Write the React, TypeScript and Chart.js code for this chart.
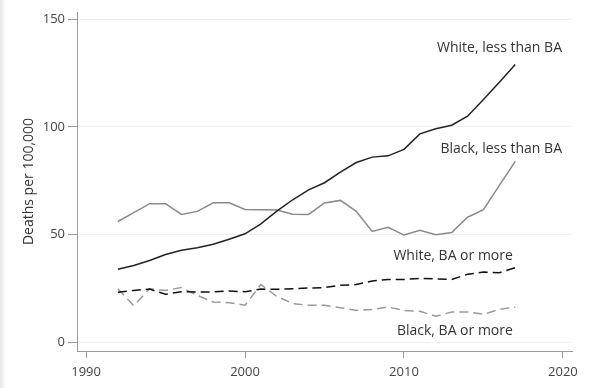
import React, { useEffect, useRef } from "react";
import { Chart, registerables } from "chart.js";

Chart.register(...registerables);

const years = [1992, 1993, 1994, 1995, 1996, 1997, 1998, 1999, 2000, 2001, 2002, 2003, 2004, 2005, 2006, 2007, 2008, 2009, 2010, 2011, 2012, 2013, 2014, 2015, 2016, 2017];
const whiteLessBA = [33.9, 35.7, 38.0, 40.8, 42.7, 43.9, 45.5, 47.9, 50.4, 55.0, 60.9, 66.2, 70.8, 74.1, 79.0, 83.5, 86.0, 86.6, 89.6, 96.8, 99.2, 100.8, 105.0, 112.8, 120.8, 129.0];
const blackLessBA = [56.1, 60.2, 64.4, 64.4, 59.4, 60.8, 64.8, 64.8, 61.7, 61.6, 61.4, 59.5, 59.4, 64.7, 65.9, 60.8, 51.5, 53.4, 49.8, 52.0, 50.0, 51.0, 58.1, 61.6, 72.9, 84.0];
const whiteBAplus = [23.3, 24.1, 24.7, 22.3, 23.5, 23.4, 23.4, 23.8, 23.5, 24.7, 24.6, 24.9, 25.2, 25.4, 26.5, 26.8, 28.5, 29.2, 29.2, 29.7, 29.4, 29.2, 31.6, 32.6, 32.3, 34.7];
const blackBAplus = [24.9, 17.0, 24.9, 24.1, 25.4, 21.8, 18.7, 18.4, 17.2, 26.8, 21.3, 18.0, 17.2, 17.2, 16.1, 14.8, 15.2, 16.4, 14.8, 14.4, 12.1, 14.1, 14.1, 13.0, 15.3, 16.4];
const seriesNames = ["White, less than BA", "Black, less than BA", "White, BA or more", "Black, BA or more"];
const xTicks = [1990, 2000, 2010, 2020];
const yTicks = [0, 50, 100, 150];
const yTitle = "Deaths per 100,000";
// label anchors in data units: [year (right edge), value (middle)]
const labelAnchors: [number, number][] = [
  [2019.94, 136.6],
  [2019.94, 89.6],
  [2016.85, 39.9],
  [2016.85, 5.1],
];

const FONT = "'Open Sans', 'DejaVu Sans', sans-serif";

const toPoints = (vals: number[]) => vals.map((v, i) => ({ x: years[i], y: v }));

const labelPlugin = {
  id: "seriesLabels",
  afterDatasetsDraw(chart: any) {
    const { ctx, scales } = chart;
    ctx.save();
    ctx.font = `14px ${FONT}`;
    ctx.fillStyle = "#333";
    ctx.textAlign = "right";
    ctx.textBaseline = "middle";
    seriesNames.forEach((name, i) => {
      const [xv, yv] = labelAnchors[i];
      ctx.fillText(name, scales.x.getPixelForValue(xv), scales.y.getPixelForValue(yv));
    });
    ctx.restore();
  },
};

export default function App() {
  const ref = useRef<HTMLCanvasElement | null>(null);
  useEffect(() => {
    document.body.style.margin = "0";
    if (!ref.current) return;
    const chart = new Chart(ref.current, {
      type: "line",
      data: {
        datasets: [
          { label: seriesNames[0], data: toPoints(whiteLessBA), borderColor: "#222", borderWidth: 1.5, pointRadius: 0, tension: 0 },
          { label: seriesNames[1], data: toPoints(blackLessBA), borderColor: "#8a8a8a", borderWidth: 1.5, pointRadius: 0, tension: 0 },
          { label: seriesNames[2], data: toPoints(whiteBAplus), borderColor: "#111", borderWidth: 1.5, borderDash: [9, 5], pointRadius: 0, tension: 0 },
          { label: seriesNames[3], data: toPoints(blackBAplus), borderColor: "#999", borderWidth: 1.5, borderDash: [9, 5], pointRadius: 0, tension: 0 },
        ],
      },
      options: {
        animation: false,
        responsive: false,
        maintainAspectRatio: false,
        layout: { padding: { top: 12, right: 34, bottom: 0, left: 0 } },
        plugins: { legend: { display: false }, tooltip: { enabled: false } },
        scales: {
          x: {
            type: "linear",
            min: 1989.43,
            max: 2020.57,
            afterBuildTicks: (s: any) => { s.ticks = xTicks.map((v) => ({ value: v })); },
            afterFit: (s: any) => { s.height = 37; },
            grid: { drawOnChartArea: false, tickLength: 7, tickColor: "#999" },
            border: { color: "#999", width: 1 },
            ticks: { font: { family: FONT, size: 13 }, color: "#444", padding: 6, maxRotation: 0, callback: (v: any) => String(v) },
          },
          y: {
            type: "linear",
            min: -4.04,
            max: 153.4,
            afterBuildTicks: (s: any) => { s.ticks = yTicks.map((v) => ({ value: v })); },
            afterFit: (s: any) => { s.width = 77; },
            grid: { color: "#f1f1f1", tickLength: 9, tickColor: "#999" },
            border: { color: "#999", width: 1 },
            ticks: { font: { family: FONT, size: 13 }, color: "#444", padding: 3 },
            title: { display: true, text: yTitle, font: { family: FONT, size: 14 }, color: "#333", padding: { top: 21, bottom: 0 } },
          },
        },
      },
      plugins: [labelPlugin],
    } as any);
    return () => chart.destroy();
  }, []);
  return (
    <div style={{ position: "relative", width: 606, height: 388, background: "#fff" }}>
      <div style={{ position: "absolute", left: 0, top: 0, width: 6, height: 388, background: "linear-gradient(to right, #e6e6e6, #ffffff)" }} />
      <canvas ref={ref} width={606} height={388} style={{ position: "absolute", left: 0, top: 0, width: 606, height: 388 }} />
    </div>
  );
}
